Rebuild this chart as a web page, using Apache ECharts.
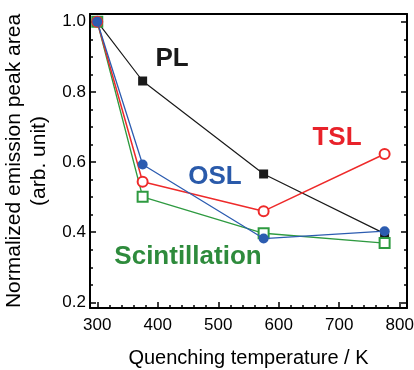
<!DOCTYPE html>
<html>
<head>
<meta charset="utf-8">
<script src="https://cdn.jsdelivr.net/npm/echarts@6/dist/echarts.min.js"></script>
<style>
html,body{margin:0;padding:0;background:#fff;}
#chart{width:414px;height:370px;}
</style>
</head>
<body>
<div id="chart"></div>
<script>
var temps = [300, 375, 575, 775];
var plValues = [1.0, 0.831, 0.566, 0.396];
var tslValues = [1.0, 0.544, 0.46, 0.623];
var oslValues = [1.0, 0.593, 0.382, 0.403];
var scintValues = [1.0, 0.501, 0.397, 0.369];
var xMajorTicks = [300, 400, 500, 600, 700, 800];
var xMinorTicks = [320, 340, 360, 380, 420, 440, 460, 480, 520, 540, 560, 580, 620, 640, 660, 680, 720, 740, 760, 780];
var yMajorTicks = [0.2, 0.4, 0.6, 0.8, 1.0];
var yMinorTicks = [0.25, 0.3, 0.35, 0.45, 0.5, 0.55, 0.65, 0.7, 0.75, 0.85, 0.9, 0.95];
var xTitle = 'Quenching temperature / K';
var yTitle = 'Normalized emission peak area\n(arb. unit)';

function pairs(xs, ys) { return xs.map(function (x, i) { return [x, ys[i]]; }); }

var FONT = '"Liberation Sans", Arial, sans-serif';
var chart = echarts.init(document.getElementById('chart'), null, {renderer: 'canvas'});
var lineCol = '#000';

function xAx(pos, ticks, len, showLine, showLabel, extra) {
  var a = {
    type: 'value', position: pos, min: 288, max: 812,
    axisLine: {show: showLine, onZero: false, lineStyle: {color: lineCol, width: 2}},
    axisTick: {show: ticks.length > 0, inside: true, length: len, customValues: ticks, lineStyle: {color: lineCol, width: 1.5}},
    axisLabel: {show: showLabel, customValues: ticks, color: '#000', fontSize: 17, fontFamily: FONT, margin: 9},
    splitLine: {show: false}
  };
  return Object.assign(a, extra || {});
}
function yAx(pos, ticks, len, showLine, showLabel, extra) {
  var a = {
    type: 'value', position: pos, min: 0.184, max: 1.022,
    axisLine: {show: showLine, onZero: false, lineStyle: {color: lineCol, width: 2}},
    axisTick: {show: ticks.length > 0, inside: true, length: len, customValues: ticks, lineStyle: {color: lineCol, width: 1.5}},
    axisLabel: {show: showLabel, customValues: ticks, color: '#000', fontSize: 17, fontFamily: FONT, margin: 4,
      formatter: function (v) { return v.toFixed(1); }},
    splitLine: {show: false}
  };
  return Object.assign(a, extra || {});
}

var option = {
  backgroundColor: '#fff',
  animation: false,
  grid: {left: 90, right: 7, top: 14, bottom: 62, containLabel: false, outerBoundsMode: 'none'},
  xAxis: [
    xAx('bottom', xMajorTicks, 6, true, true, {
      name: xTitle, nameLocation: 'middle', nameGap: 40,
      nameTextStyle: {color: '#000', fontSize: 20, fontFamily: FONT}
    }),
    xAx('bottom', xMinorTicks, 3, false, false),
    xAx('top', [], 0, true, false)
  ],
  yAxis: [
    yAx('left', yMajorTicks, 6, true, true, {
      name: yTitle, nameLocation: 'middle', nameGap: 30, nameRotate: 90,
      nameTextStyle: {color: '#000', fontSize: 21, fontFamily: FONT, lineHeight: 25, align: 'center'}
    }),
    yAx('left', yMinorTicks, 3, false, false),
    yAx('right', yMajorTicks, 6, true, false),
    yAx('right', yMinorTicks, 3, false, false)
  ],
  series: [
    {
      name: 'PL', type: 'line', data: pairs(temps, plValues), xAxisIndex: 0, yAxisIndex: 0,
      symbol: 'rect', symbolSize: 9, z: 2,
      lineStyle: {color: '#1a1a1a', width: 1.2}, itemStyle: {color: '#1a1a1a'}
    },
    {
      name: 'Scintillation', type: 'line', data: pairs(temps, scintValues), xAxisIndex: 0, yAxisIndex: 0,
      symbol: 'emptyRect', symbolSize: 10, showAllSymbol: true, z: 3,
      lineStyle: {color: '#2e9a40', width: 1.3}, itemStyle: {color: '#2e9a40', borderWidth: 1.5}
    },
    {
      name: 'TSL', type: 'line', data: pairs(temps, tslValues), xAxisIndex: 0, yAxisIndex: 0,
      symbol: 'emptyCircle', symbolSize: 10, z: 4,
      lineStyle: {color: '#ee2a2a', width: 1.5}, itemStyle: {color: '#ee2a2a', borderWidth: 1.5}
    },
    {
      name: 'OSL', type: 'line', data: pairs(temps, oslValues), xAxisIndex: 0, yAxisIndex: 0,
      symbol: 'circle', symbolSize: 10, z: 5,
      lineStyle: {color: '#2c5cb0', width: 1.3}, itemStyle: {color: '#2c5cb0'}
    }
  ],
  graphic: [
    {type: 'text', x: 172, y: 59, style: {text: 'PL', fill: '#1a1a1a', font: 'bold 26px ' + FONT, textAlign: 'center', textVerticalAlign: 'middle'}},
    {type: 'text', x: 337, y: 138, style: {text: 'TSL', fill: '#e8222a', font: 'bold 26px ' + FONT, textAlign: 'center', textVerticalAlign: 'middle'}},
    {type: 'text', x: 215, y: 177, style: {text: 'OSL', fill: '#2a5aaa', font: 'bold 26px ' + FONT, textAlign: 'center', textVerticalAlign: 'middle'}},
    {type: 'text', x: 188, y: 257, style: {text: 'Scintillation', fill: '#2e8b3c', font: 'bold 26px ' + FONT, textAlign: 'center', textVerticalAlign: 'middle'}}
  ]
};
chart.setOption(option);
</script>
</body>
</html>
